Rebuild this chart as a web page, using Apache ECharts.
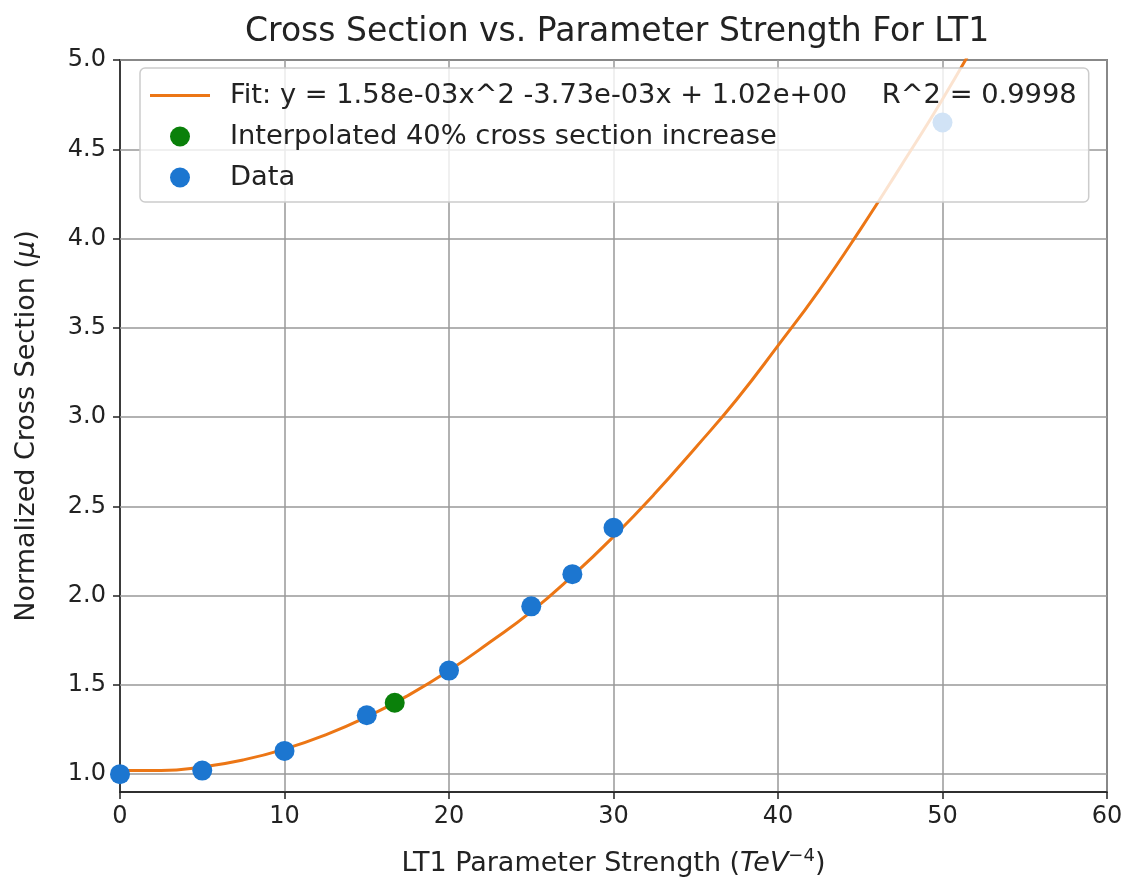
<!DOCTYPE html>
<html>
<head>
<meta charset="utf-8">
<script src="https://cdn.jsdelivr.net/npm/echarts@6/dist/echarts.min.js"></script>
<style>
	html, body { margin: 0; padding: 0; background: #fff; }
	#main { width: 1123px; height: 883px; }
</style>
</head>
<body>
<div id="main"></div>
<script>
// measured points
var dataX = [0, 5, 10, 15, 20, 25, 27.5, 30, 50];
var dataY = [1.00, 1.02, 1.13, 1.33, 1.58, 1.94, 2.12, 2.38, 4.65];
// interpolated 40% point
var interpX = [16.7];
var interpY = [1.40];
// fit curve
var fitX = [0, 2.5, 5, 7.5, 10, 12.5, 15, 17.5, 20, 22.5, 25, 27.5, 30, 32.5, 35, 37.5, 40, 42.5, 45, 47.5, 50, 52.5];
var fitY = [1.02, 1.02, 1.04, 1.08, 1.14, 1.22, 1.32, 1.44, 1.58, 1.74, 1.91, 2.11, 2.33, 2.57, 2.83, 3.10, 3.40, 3.71, 4.05, 4.41, 4.78, 5.18];
var yTicks = [1.0, 1.5, 2.0, 2.5, 3.0, 3.5, 4.0, 4.5, 5.0];

var fitName = 'Fit: y = 1.58e-03x^2 -3.73e-03x + 1.02e+00    R^2 = 0.9998';
var interpName = 'Interpolated 40% cross section increase';
var dataName = 'Data';

function pairs(xs, ys) {
	var out = [];
	for (var i = 0; i < xs.length; i++) out.push([xs[i], ys[i]]);
	return out;
}

var font = 'DejaVu Sans';
var chart = echarts.init(document.getElementById('main'));
var option = {
	animation: false,
	backgroundColor: '#fff',
	textStyle: { fontFamily: font },
	title: {
		text: 'Cross Section vs. Parameter Strength For LT1',
		left: 240,
		top: 11,
		textStyle: { fontFamily: font, fontSize: 33, fontWeight: 'normal', color: '#222' }
	},
	grid: {
		left: 120, right: 16, top: 60, bottom: 91,
		outerBoundsMode: 'none',
		containLabel: false,
		show: true, borderColor: '#222', borderWidth: 1.5, backgroundColor: 'transparent'
	},
	legend: {
		orient: 'vertical',
		left: 140, top: 68,
		padding: [14, 12, 11, 10],
		itemGap: 14,
		itemWidth: 60, itemHeight: 20,
		z: 10,
		backgroundColor: 'rgba(255,255,255,0.8)',
		borderColor: '#ccc', borderWidth: 1.5, borderRadius: 5,
		textStyle: { fontFamily: font, fontSize: 27.3, color: '#222', padding: [0, 0, 0, 15] },
		data: [
			{ name: fitName, icon: 'path://M0,0 L60,0 L60,3 L0,3 Z' },
			{ name: interpName, icon: 'circle' },
			{ name: dataName, icon: 'circle' }
		]
	},
	xAxis: {
		type: 'value',
		min: 0, max: 60, interval: 10,
		name: 'LT1 Parameter Strength ({it|TeV}{sup|−4})',
		nameLocation: 'middle',
		nameGap: 55,
		nameTextStyle: {
			fontFamily: font, fontSize: 27, color: '#222', lineHeight: 34,
			rich: {
				it: { fontFamily: font, fontSize: 27, fontStyle: 'italic', color: '#222', lineHeight: 34 },
				sup: { fontFamily: font, fontSize: 18, color: '#222', verticalAlign: 'top', lineHeight: 34 }
			}
		},
		axisLine: { lineStyle: { color: '#222', width: 1.5 } },
		axisTick: { show: true, inside: false, length: 7, lineStyle: { color: '#222', width: 1.5 } },
		axisLabel: { fontFamily: font, fontSize: 24, color: '#222', margin: 13 },
		splitLine: { show: true, lineStyle: { color: '#999', width: 1.5 } }
	},
	yAxis: {
		type: 'value',
		min: 0.9, max: 5.0,
		name: 'Normalized Cross Section ({it|μ})',
		nameLocation: 'middle',
		nameGap: 80,
		nameTextStyle: {
			fontFamily: font, fontSize: 27, color: '#222',
			rich: {
				it: { fontFamily: font, fontSize: 27, fontStyle: 'italic', color: '#222' }
			}
		},
		axisLine: { show: true, lineStyle: { color: '#222', width: 1.5 } },
		axisTick: { show: true, inside: false, length: 7, customValues: yTicks, lineStyle: { color: '#222', width: 1.5 } },
		axisLabel: {
			fontFamily: font, fontSize: 24, color: '#222', margin: 14,
			customValues: yTicks,
			formatter: function (v) { return v.toFixed(1); }
		},
		splitLine: { show: false }
	},
	series: [
		{
			name: fitName,
			type: 'line',
			data: pairs(fitX, fitY),
			smooth: true,
			showSymbol: false,
			clip: true,
			color: '#ec7615',
			lineStyle: { width: 3, color: '#ec7615' },
			z: 2,
			markLine: {
				silent: true,
				symbol: 'none',
				label: { show: false },
				lineStyle: { color: '#999', width: 1.5, type: 'solid' },
				z: 1,
				data: yTicks.map(function (t) { return { yAxis: t }; })
			}
		},
		{
			name: interpName,
			type: 'scatter',
			data: pairs(interpX, interpY),
			symbolSize: 20,
			color: '#0a800a',
			itemStyle: { color: '#0a800a', opacity: 1 },
			z: 3
		},
		{
			name: dataName,
			type: 'scatter',
			data: pairs(dataX, dataY),
			symbolSize: 20,
			color: '#1c76d0',
			itemStyle: { color: '#1c76d0', opacity: 1 },
			z: 3
		}
	]
};
chart.setOption(option);
</script>
</body>
</html>
